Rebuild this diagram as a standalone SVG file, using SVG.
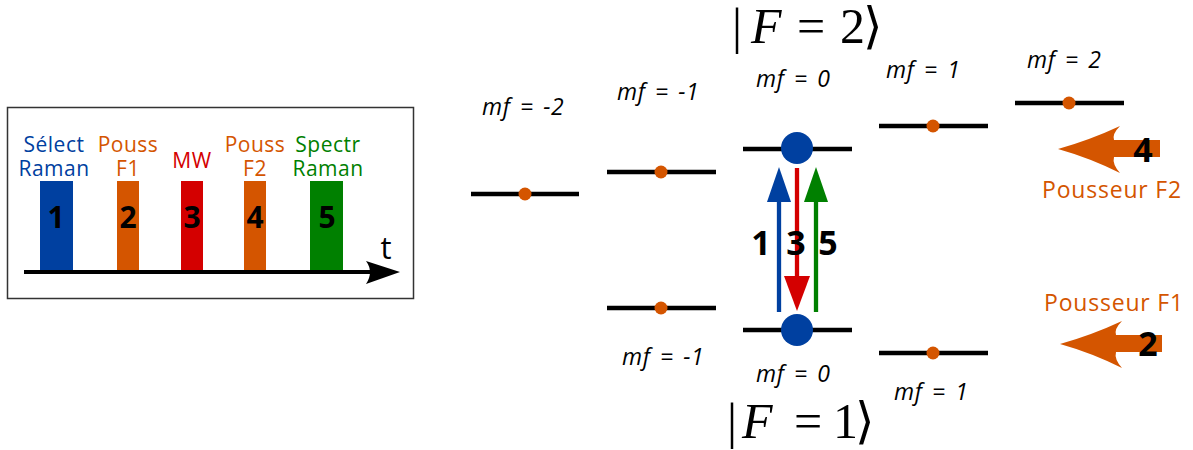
<svg xmlns="http://www.w3.org/2000/svg" width="1193" height="450" viewBox="0 0 1193 450">
<style>
.lbl{font-family:"Open Sans","DejaVu Sans",sans-serif;font-size:21px;letter-spacing:0.5px;text-anchor:middle}
.num{font-family:"Open Sans","DejaVu Sans",sans-serif;font-weight:bold;font-size:30px;text-anchor:middle;fill:#000}
.big{font-family:"Open Sans","DejaVu Sans",sans-serif;font-weight:bold;font-size:34px;text-anchor:middle;fill:#000}
.mf{font-family:"Open Sans","DejaVu Sans",sans-serif;font-style:italic;font-size:23px;letter-spacing:0.6px;word-spacing:3px;fill:#000}
.ket{font-family:"Liberation Serif","DejaVu Serif",serif;font-size:50px;fill:#000}
.pous{font-family:"Open Sans","DejaVu Sans",sans-serif;font-size:23px;letter-spacing:0.8px;text-anchor:middle;fill:#d45500}
.lvl{stroke:#000;stroke-width:4.5}
.dot{fill:#d45500}
.bdot{fill:#0040a0}
.blue{fill:#0040a0}
.orange{fill:#d45500}
.red{fill:#d40000}
.green{fill:#008000}
</style>
<defs>
<path id="bigarrow" d="M1058,149 Q1090,140 1120,126 Q1112,134 1114,140 L1160,140 L1160,157 L1114,157 Q1112,164 1120,173 Q1090,158 1058,149 Z"/>
</defs>

<g id="timeline">
<rect x="7.5" y="107.5" width="406" height="191" fill="#fff" stroke="#333" stroke-width="1.5"/>
<rect x="40" y="181" width="33" height="90" class="blue"/>
<rect x="117" y="181" width="22" height="90" class="orange"/>
<rect x="181" y="181" width="22" height="90" class="red"/>
<rect x="244" y="181" width="22" height="90" class="orange"/>
<rect x="310" y="181" width="33" height="90" class="green"/>
<line x1="24" y1="272" x2="372" y2="272" stroke="#000" stroke-width="4"/>
<path d="M400,272 L366,261 Q374,272 366,284 Z" fill="#000"/>
<text x="386" y="259" font-family="Open Sans, DejaVu Sans, sans-serif" font-size="31" text-anchor="middle">t</text>
<text class="lbl blue" x="54" y="152">Sélect</text>
<text class="lbl blue" x="54" y="176">Raman</text>
<text class="lbl orange" x="128" y="152">Pouss</text>
<text class="lbl orange" x="128" y="176">F1</text>
<text class="lbl red" x="192" y="168">MW</text>
<text class="lbl orange" x="255" y="152">Pouss</text>
<text class="lbl orange" x="255" y="176">F2</text>
<text class="lbl green" x="328" y="152">Spectr</text>
<text class="lbl green" x="328" y="176">Raman</text>
<text class="num" x="56" y="228">1</text>
<text class="num" x="128" y="228">2</text>
<text class="num" x="192" y="228">3</text>
<text class="num" x="255" y="228">4</text>
<text class="num" x="327" y="228">5</text>
</g>

<g id="ket-F2">
<text class="ket" y="43"><tspan x="732">|</tspan><tspan x="751" font-style="italic">F</tspan><tspan x="797">=</tspan><tspan x="840">2</tspan><tspan x="863">⟩</tspan></text>
</g>
<g id="ket-F1">
<text class="ket" y="438"><tspan x="727">|</tspan><tspan x="742" font-style="italic">F</tspan><tspan x="794">=</tspan><tspan x="833">1</tspan><tspan x="855">⟩</tspan></text>
</g>

<g id="F2-m-2">
<line class="lvl" x1="471" y1="194" x2="579" y2="194"/>
<circle class="dot" cx="525" cy="194" r="6.5"/>
<text class="mf" x="482" y="115">mf = -2</text>
</g>
<g id="F2-m-1">
<line class="lvl" x1="607" y1="172" x2="716" y2="172"/>
<circle class="dot" cx="661" cy="172" r="6.5"/>
<text class="mf" x="617" y="100">mf = -1</text>
</g>
<g id="F2-m0">
<line class="lvl" x1="743" y1="149" x2="852" y2="149"/>
<circle class="bdot" cx="797" cy="148" r="16"/>
<text class="mf" x="756" y="87">mf = 0</text>
</g>
<g id="F2-m1">
<line class="lvl" x1="879" y1="126" x2="988" y2="126"/>
<circle class="dot" cx="933" cy="126" r="6.5"/>
<text class="mf" x="886" y="78">mf = 1</text>
</g>
<g id="F2-m2">
<line class="lvl" x1="1015" y1="103" x2="1124" y2="103"/>
<circle class="dot" cx="1069" cy="103" r="6.5"/>
<text class="mf" x="1027" y="68">mf = 2</text>
</g>

<g id="F1-m-1">
<line class="lvl" x1="607" y1="308" x2="716" y2="308"/>
<circle class="dot" cx="661" cy="308" r="6.5"/>
<text class="mf" x="622" y="365">mf = -1</text>
</g>
<g id="F1-m0">
<line class="lvl" x1="743" y1="330" x2="852" y2="330"/>
<circle class="bdot" cx="797" cy="330" r="16"/>
<text class="mf" x="756" y="382">mf = 0</text>
</g>
<g id="F1-m1">
<line class="lvl" x1="879" y1="353" x2="988" y2="353"/>
<circle class="dot" cx="933" cy="353" r="6.5"/>
<text class="mf" x="894" y="400">mf = 1</text>
</g>

<g id="connectors">
<line x1="779" y1="312" x2="779" y2="195" stroke="#0040a0" stroke-width="4.3"/>
<path d="M779,167 L767,202 L791,202 Z" fill="#0040a0"/>
<line x1="797" y1="168" x2="797" y2="282" stroke="#d40000" stroke-width="4.3"/>
<path d="M797,311 L784,276 L810,276 Z" fill="#d40000"/>
<line x1="816" y1="312" x2="816" y2="195" stroke="#008000" stroke-width="4.3"/>
<path d="M816,167 L804,202 L828,202 Z" fill="#008000"/>
<text class="big" x="761" y="255">1</text>
<text class="big" x="796" y="255">3</text>
<text class="big" x="828" y="255">5</text>
</g>

<g id="pousseur-F2">
<use href="#bigarrow" class="orange"/>
<text class="big" x="1143" y="162">4</text>
<text class="pous" x="1112" y="198">Pousseur F2</text>
</g>
<g id="pousseur-F1">
<use href="#bigarrow" class="orange" transform="translate(2,195)"/>
<text class="big" x="1148" y="356">2</text>
<text class="pous" x="1114" y="311">Pousseur F1</text>
</g>
</svg>
